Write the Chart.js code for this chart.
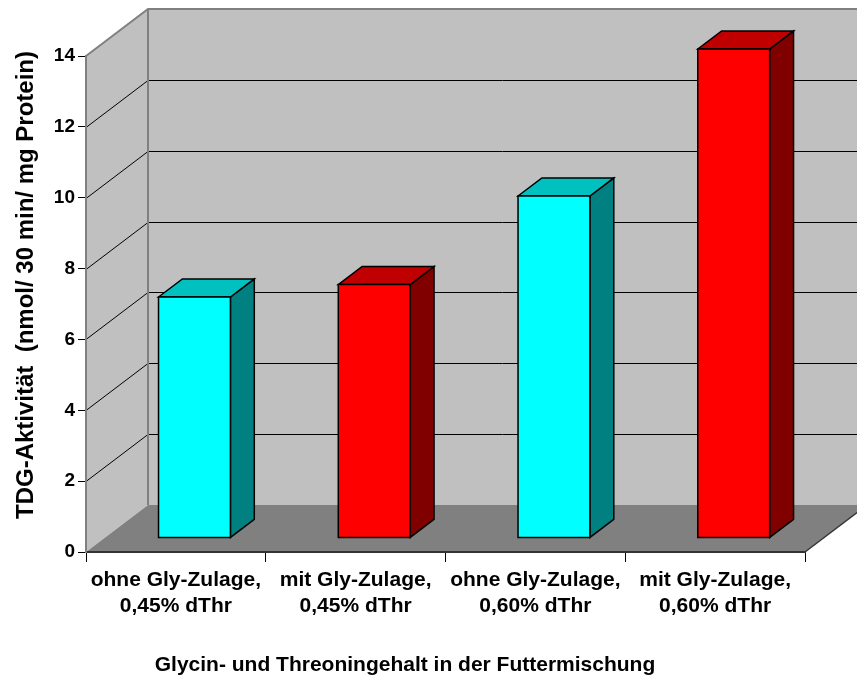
<!DOCTYPE html>
<html>
<head>
<meta charset="utf-8">
<title>TDG-Aktivität</title>
<script src="https://cdn.jsdelivr.net/npm/chart.js@4.4.1/dist/chart.umd.min.js"></script>
<style>
  html, body { margin: 0; padding: 0; background: #fff; }
  #wrap { width: 857px; height: 677px; position: relative; }
</style>
</head>
<body>
<div id="wrap"><canvas id="myChart"></canvas></div>
<script>
// feeding groups (two-line labels) and TDG activity per group
const categories = [
  ['ohne Gly-Zulage,', '0,45% dThr'],
  ['mit Gly-Zulage,', '0,45% dThr'],
  ['ohne Gly-Zulage,', '0,60% dThr'],
  ['mit Gly-Zulage,', '0,60% dThr']
];
const activity = [6.8, 7.15, 9.65, 13.8];
const yTicks = [0, 2, 4, 6, 8, 10, 12, 14];

const xTitle = 'Glycin- und Threoningehalt in der Futtermischung';
const yTitle = 'TDG-Aktivität  (nmol/ 30 min/ mg Protein)';

// front / top / side colour of each column
const faceColors = [
  ['#00ffff', '#00c0c0', '#008080'],
  ['#ff0000', '#c00000', '#800000'],
  ['#00ffff', '#00c0c0', '#008080'],
  ['#ff0000', '#c00000', '#800000']
];

const FONT = '"Liberation Sans", Arial, Helvetica, sans-serif';
Chart.defaults.font.family = FONT;

// 3D box geometry: full depth of the floor, and where the columns sit in it
const DEPTH_X = 62, DEPTH_Y = 47;
const COL_FRONT = 0.3, COL_DEPTH = 0.385;

const wallsPlugin = {
  id: 'walls',
  beforeDraw(chart) {
    const { ctx, chartArea: a, scales: { y } } = chart;
    const W = chart.width;
    const bl = a.left + DEPTH_X;          // back wall left
    const bt = a.top - DEPTH_Y;           // back wall top
    const bb = a.bottom - DEPTH_Y;        // back wall bottom
    ctx.save();

    // back wall
    ctx.fillStyle = '#c0c0c0';
    ctx.fillRect(bl, bt, W - bl, bb - bt);
    // side wall
    ctx.beginPath();
    ctx.moveTo(a.left, a.top);
    ctx.lineTo(bl, bt);
    ctx.lineTo(bl, bb);
    ctx.lineTo(a.left, a.bottom);
    ctx.closePath();
    ctx.fill();
    // floor
    ctx.fillStyle = '#808080';
    ctx.beginPath();
    ctx.moveTo(a.left, a.bottom);
    ctx.lineTo(bl, bb);
    ctx.lineTo(a.right + DEPTH_X, bb);
    ctx.lineTo(a.right, a.bottom);
    ctx.closePath();
    ctx.fill();
    ctx.strokeStyle = '#333';
    ctx.lineWidth = 1.5;
    ctx.beginPath();
    ctx.moveTo(a.right, a.bottom);
    ctx.lineTo(a.right + DEPTH_X, bb);
    ctx.stroke();

    // gridlines across side wall and back wall
    ctx.strokeStyle = '#000';
    ctx.lineWidth = 1;
    yTicks.forEach(v => {
      if (v === 0 || v === y.max) return;
      const py = Math.round(y.getPixelForValue(v)) + 0.5;
      ctx.beginPath();
      ctx.moveTo(a.left, py);
      ctx.lineTo(bl, py - DEPTH_Y);
      ctx.lineTo(W, py - DEPTH_Y);
      ctx.stroke();
    });

    // wall edges
    ctx.strokeStyle = '#808080';
    ctx.lineWidth = 2;
    ctx.beginPath();
    ctx.moveTo(a.left, a.top);
    ctx.lineTo(bl, bt);
    ctx.lineTo(W, bt);
    ctx.moveTo(bl, bt);
    ctx.lineTo(bl, bb);
    ctx.stroke();

    // axis titles
    ctx.fillStyle = '#000';
    ctx.font = 'bold 21px ' + FONT;
    ctx.textAlign = 'center';
    ctx.textBaseline = 'alphabetic';
    ctx.fillText(xTitle, 405, 671);
    ctx.translate(33, 285);
    ctx.rotate(-Math.PI / 2);
    ctx.font = 'bold 24px ' + FONT;
    ctx.fillText(yTitle, 0, 0);
    ctx.restore();
  }
};

const columnsPlugin = {
  id: 'columns',
  afterDatasetsDraw(chart) {
    const ctx = chart.ctx;
    const meta = chart.getDatasetMeta(0);
    const ox = COL_FRONT * DEPTH_X, oy = COL_FRONT * DEPTH_Y;
    const dx = COL_DEPTH * DEPTH_X, dy = COL_DEPTH * DEPTH_Y;
    ctx.save();
    ctx.lineJoin = 'miter';
    ctx.strokeStyle = '#000';
    ctx.lineWidth = 1.5;
    meta.data.forEach((bar, i) => {
      const p = bar.getProps(['x', 'y', 'base', 'width'], true);
      const l = p.x - p.width / 2 + ox, r = l + p.width;
      const t = p.y - oy, b = p.base - oy;
      const [front, top, side] = faceColors[i];
      const poly = (pts, fill) => {
        ctx.beginPath();
        ctx.moveTo(pts[0][0], pts[0][1]);
        pts.slice(1).forEach(q => ctx.lineTo(q[0], q[1]));
        ctx.closePath();
        ctx.fillStyle = fill;
        ctx.fill();
        ctx.stroke();
      };
      poly([[r, t], [r + dx, t - dy], [r + dx, b - dy], [r, b]], side);
      poly([[l, t], [l + dx, t - dy], [r + dx, t - dy], [r, t]], top);
      poly([[l, t], [r, t], [r, b], [l, b]], front);
    });
    ctx.restore();
  }
};

new Chart(document.getElementById('myChart'), {
  type: 'bar',
  data: {
    labels: categories,
    datasets: [{
      label: 'TDG-Aktivität',
      data: activity,
      backgroundColor: 'rgba(0,0,0,0)',
      borderWidth: 0,
      categoryPercentage: 1,
      barPercentage: 0.4
    }]
  },
  options: {
    responsive: true,
    maintainAspectRatio: false,
    animation: false,
    layout: { padding: { left: 46, top: 56, right: 52, bottom: 0 } },
    plugins: { legend: { display: false }, tooltip: { enabled: false } },
    scales: {
      x: {
        offset: true,
        grid: { offset: true, drawOnChartArea: false, tickLength: 10, color: '#000' },
        border: { color: '#333', width: 2 },
        ticks: {
          color: '#000',
          font: { size: 21, weight: 'bold', lineHeight: 1.25 },
          padding: 5,
          maxRotation: 0,
          autoSkip: false
        },
        afterFit(scale) { scale.height = 125; }
      },
      y: {
        min: 0,
        max: 14,
        afterBuildTicks(scale) { scale.ticks = yTicks.map(v => ({ value: v })); },
        grid: { drawOnChartArea: false, tickLength: 8, color: '#000' },
        border: { color: '#808080', width: 2 },
        ticks: { color: '#000', font: { size: 19, weight: 'bold' }, padding: 3 },
        afterFit(scale) { scale.width = 40; }
      }
    }
  },
  plugins: [wallsPlugin, columnsPlugin]
});
</script>
</body>
</html>
